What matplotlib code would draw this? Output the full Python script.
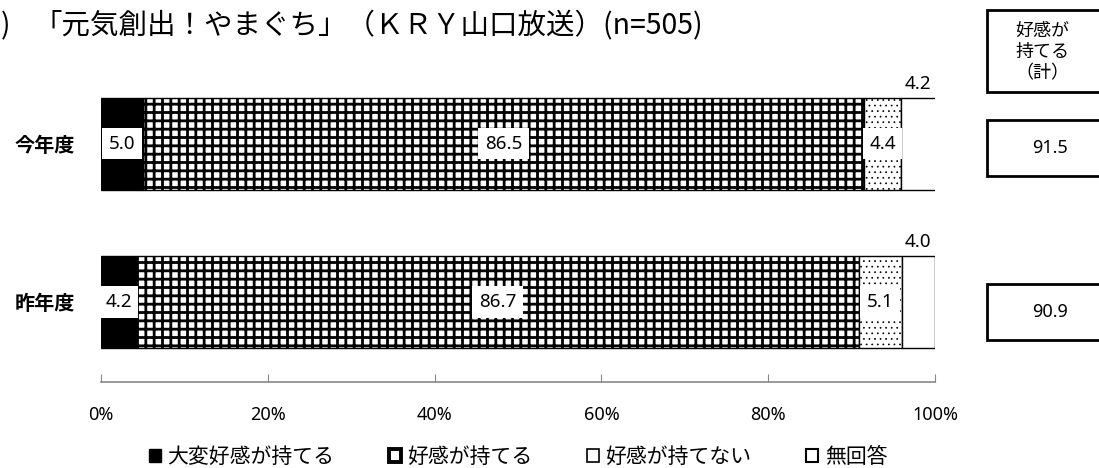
import matplotlib
matplotlib.use("Agg")
import matplotlib.pyplot as plt
from matplotlib.patches import Rectangle, Patch

plt.rcParams['font.family'] = ['Noto Sans CJK JP', 'DejaVu Sans']

# Data
years = ["今年度", "昨年度"]
very_good = [5.0, 4.2]
good = [86.5, 86.7]
not_good = [4.4, 5.1]
no_answer = [4.2, 4.0]
total_good = ["91.5", "90.9"]
series_names = ["大変好感が持てる", "好感が持てる", "好感が持てない", "無回答"]
xticks = [0, 20, 40, 60, 80, 100]

W, H = 1099, 468
fig = plt.figure(figsize=(W / 100, H / 100), dpi=100)
ax = fig.add_axes([101 / W, (H - 382) / H, (935 - 101) / W, (382 - 60) / H])

ypos = [1, 0]
bar_h = 0.58
num_font = ['Noto Sans', 'DejaVu Sans']

series = [very_good, good, not_good, no_answer]
styles = [
    dict(color="black", hatch=None, hlw=1.0),
    dict(color="white", hatch="++", hlw=2.0),
    dict(color="white", hatch="...", hlw=0.5),
    dict(color="white", hatch=None, hlw=1.0),
]

left = [0.0, 0.0]
for i, (vals, st) in enumerate(zip(series, styles)):
    with plt.rc_context({'hatch.linewidth': st["hlw"], 'hatch.color': 'black'}):
        ax.barh(ypos, vals, left=left, height=bar_h, color=st["color"],
                edgecolor="black", hatch=st["hatch"], linewidth=1.0, zorder=2)
    for j, v in enumerate(vals):
        cx = left[j] + v / 2
        if i == 3:
            # small last segment: label sits above the bar
            ax.text(cx, ypos[j] + bar_h / 2 + 0.03, f"{v:.1f}",
                    ha="center", va="bottom", fontsize=13.5, family=num_font, zorder=4)
        else:
            ax.text(cx, ypos[j], f"{v:.1f}", ha="center", va="center", fontsize=13.5,
                    family=num_font, zorder=4,
                    bbox=dict(boxstyle="square,pad=0.35", facecolor="white", edgecolor="none"))
    left = [l + v for l, v in zip(left, vals)]

ax.set_xlim(0, 100)
ax.set_ylim(-0.506, 1.53)
ax.set_xticks(xticks)
ax.set_xticklabels([f"{t}%" for t in xticks], fontsize=13, family=num_font)
ax.set_yticks(ypos)
ax.set_yticklabels(years, fontsize=14.5, fontweight="bold")
ax.tick_params(axis="y", length=0, pad=19)
ax.tick_params(axis="x", direction="in", length=6, color="#888888", pad=17)
for s in ["top", "right", "left"]:
    ax.spines[s].set_visible(False)
ax.spines["bottom"].set_color("#888888")
ax.spines["bottom"].set_linewidth(1.2)

# Title
fig.text(1 / W, 1 - 26 / H, ")", fontsize=20, va="center", ha="left")
fig.text(33 / W, 1 - 26 / H, "「元気創出！やまぐち」（ＫＲＹ山口放送）(n=505)",
         fontsize=20.5, va="center", ha="left")

# Right side boxes
box_x0 = 987 / W
box_w = 200 / W
fig.add_artist(Rectangle((box_x0, 1 - 92 / H), box_w, 82 / H, transform=fig.transFigure,
                         facecolor="white", edgecolor="black", linewidth=2.0))
fig.text(1042 / W, 1 - 52 / H, "好感が\n持てる\n（計）", ha="center", va="center",
         fontsize=13, linespacing=1.2)
for yc, val in zip([148, 312], total_good):
    fig.add_artist(Rectangle((box_x0, 1 - (yc + 28) / H), box_w, 56 / H,
                             transform=fig.transFigure, facecolor="white",
                             edgecolor="black", linewidth=2.0))
    fig.text(1050 / W, 1 - yc / H, val, ha="center", va="center", fontsize=13,
             family=num_font)

handles = [
    Patch(facecolor="black", edgecolor="black", linewidth=1.0, label=series_names[0]),
    Patch(facecolor="white", edgecolor="black", linewidth=2.8, label=series_names[1]),
    Patch(facecolor="white", edgecolor="black", linewidth=1.2, label=series_names[2]),
    Patch(facecolor="white", edgecolor="black", linewidth=1.5, label=series_names[3]),
]
fig.legend(handles=handles, loc="center", bbox_to_anchor=(518 / W, 1 - 457 / H),
           ncol=4, frameon=False, fontsize=15, handlelength=0.6, handleheight=0.6,
           handletextpad=0.3, columnspacing=2.6, borderpad=0.1)

fig.savefig("out.png", dpi=100)
